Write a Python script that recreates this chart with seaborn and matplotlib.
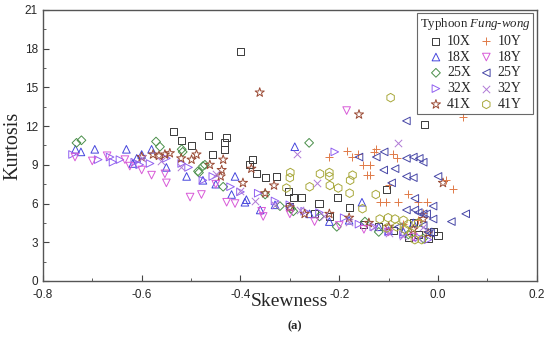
import pandas as pd
import matplotlib
matplotlib.use("Agg")
import matplotlib.pyplot as plt
import seaborn as sns
from matplotlib.ticker import MultipleLocator

# skewness / kurtosis, one pair of lists per series
x10X = [-0.40, -0.536, -0.519, -0.50, -0.465, -0.428, -0.432, -0.432, -0.456, -0.376, -0.381, -0.367,
        -0.35, -0.327, -0.303, -0.293, -0.276, -0.241, -0.204, -0.18, -0.104, -0.027, -0.30, -0.25,
        -0.22, -0.15, -0.12, -0.09, -0.06, -0.04, -0.02, -0.01, 0.0, -0.05]
y10X = [17.8, 11.6, 10.9, 10.5, 11.3, 11.1, 10.7, 10.2, 9.8, 9.4, 9.0, 8.3,
        8.0, 8.1, 6.9, 6.5, 6.5, 6.0, 6.5, 5.7, 7.1, 12.1, 5.8, 5.2,
        5.0, 4.4, 4.2, 3.9, 3.4, 3.6, 3.3, 3.8, 3.5, 4.5]

x18X = [-0.734, -0.723, -0.695, -0.631, -0.60, -0.61, -0.58, -0.618, -0.509, -0.411, -0.476, -0.29,
        -0.154, -0.418, -0.388, -0.391, -0.36, -0.45, -0.55, -0.33, -0.26, -0.22, -0.18, -0.12,
        -0.10, -0.07, -0.05]
y18X = [10.2, 10.0, 10.2, 10.2, 9.8, 9.5, 10.2, 9.1, 8.1, 8.1, 7.8, 10.4,
        6.1, 6.7, 6.3, 6.1, 5.5, 7.5, 8.8, 5.9, 5.2, 4.6, 4.7, 4.2,
        3.9, 3.8, 4.5]

x25X = [-0.732, -0.722, -0.571, -0.563, -0.517, -0.472, -0.484, -0.519, -0.476, -0.486, -0.435, -0.261,
        -0.32, -0.293, -0.297, -0.205, -0.148, -0.24, -0.12, -0.06, -0.03, -0.35]
y25X = [10.7, 10.9, 10.8, 10.4, 10.0, 9.0, 8.4, 10.2, 8.9, 8.5, 7.3, 10.7,
        5.8, 5.4, 5.6, 4.2, 4.6, 5.0, 3.8, 3.6, 3.3, 6.7]

x32X = [-0.74, -0.688, -0.664, -0.658, -0.644, -0.614, -0.604, -0.583, -0.519, -0.505, -0.476, -0.456,
        -0.42, -0.40, -0.364, -0.33, -0.30, -0.27, -0.24, -0.209, -0.19, -0.16, -0.13, -0.10,
        -0.07, -0.04, -0.02, -0.55]
y32X = [9.8, 9.4, 9.6, 9.2, 9.4, 9.2, 9.0, 9.1, 9.1, 8.8, 7.8, 8.1,
        7.3, 6.9, 6.8, 6.2, 5.9, 5.4, 5.3, 10.0, 4.9, 4.4, 4.2, 3.8,
        3.6, 3.4, 3.2, 9.5]

x41X = [-0.361, -0.577, -0.565, -0.553, -0.543, -0.489, -0.499, -0.462, -0.435, -0.438, -0.44, -0.395,
        -0.378, -0.35, -0.332, -0.16, 0.01, -0.30, -0.27, -0.22, -0.18, -0.14, -0.10, -0.05,
        -0.03, -0.02, -0.60, -0.52]
y41X = [14.6, 9.8, 9.7, 9.8, 9.9, 9.8, 9.4, 9.0, 9.4, 8.6, 8.1, 7.6,
        8.7, 6.8, 7.4, 12.9, 7.6, 5.7, 5.2, 5.2, 4.9, 4.5, 4.2, 4.0,
        4.8, 3.7, 9.6, 9.5]

x10Y = [0.05, -0.185, -0.22, -0.175, -0.162, -0.152, -0.138, -0.126, -0.091, -0.084, -0.143, -0.137,
        -0.10, -0.118, -0.105, -0.081, -0.06, -0.04, -0.023, 0.031, 0.017, -0.04, -0.03, -0.13, -0.07]
y10Y = [12.7, 10.1, 9.6, 9.6, 9.8, 9.0, 9.0, 10.2, 9.8, 9.5, 8.2, 8.2,
        7.4, 6.1, 6.1, 6.1, 6.7, 6.1, 6.1, 7.1, 7.8, 4.7, 5.3, 10.0, 4.4]

x18Y = [-0.735, -0.70, -0.634, -0.624, -0.60, -0.58, -0.553, -0.55, -0.502, -0.479, -0.45, -0.428,
        -0.411, -0.357, -0.354, -0.30, -0.25, -0.185, -0.20, -0.15, -0.10, -0.05, -0.67]
y18Y = [9.6, 9.3, 9.4, 8.9, 8.6, 8.2, 8.3, 7.6, 6.5, 6.7, 7.5, 6.1,
        6.0, 5.4, 5.0, 5.2, 4.6, 13.2, 4.3, 4.0, 3.8, 3.4, 9.7]

x25Y = [-0.064, -0.16, -0.125, -0.109, -0.064, -0.05, -0.038, -0.03, -0.11, -0.087, -0.094, -0.064,
        -0.05, 0.0, -0.047, -0.064, -0.047, -0.04, -0.03, -0.023, 0.027, 0.056, -0.03, -0.02,
        -0.015, -0.08, -0.01, -0.01]
y25Y = [12.4, 9.6, 9.6, 10.0, 9.5, 9.6, 9.5, 9.2, 8.6, 8.7, 7.6, 8.1,
        8.0, 8.1, 6.4, 5.5, 5.5, 5.3, 5.2, 5.2, 4.6, 5.2, 4.3, 3.8,
        3.7, 4.2, 4.8, 5.8]

x32Y = [-0.285, -0.245, -0.081, -0.60, -0.56, -0.52, -0.45, -0.40, -0.37, -0.33, -0.28, -0.23,
        -0.18, -0.13, -0.10, -0.07, -0.04, -0.03]
y32Y = [9.8, 7.6, 10.7, 9.5, 9.3, 8.8, 8.3, 7.0, 6.2, 5.9, 5.5, 5.0,
        4.6, 4.2, 3.7, 3.5, 3.3, 4.2]

x41Y = [-0.096, -0.299, -0.30, -0.239, -0.22, -0.22, -0.219, -0.173, -0.178, -0.26, -0.202, -0.179,
        -0.153, -0.126, -0.118, -0.101, -0.087, -0.07, -0.104, -0.084, -0.067, -0.054, -0.047, -0.033,
        -0.307, -0.04, -0.06]
y41Y = [14.2, 8.4, 8.0, 8.3, 8.4, 8.1, 7.4, 8.2, 7.8, 7.3, 7.2, 6.8,
        5.6, 6.7, 4.8, 4.9, 4.8, 4.7, 4.1, 4.2, 4.0, 3.7, 3.2, 3.2,
        7.2, 4.5, 4.4]

names = ["10X", "18X", "25X", "32X", "41X", "10Y", "18Y", "25Y", "32Y", "41Y"]
xs = [x10X, x18X, x25X, x32X, x41X, x10Y, x18Y, x25Y, x32Y, x41Y]
ys = [y10X, y18X, y25X, y32X, y41X, y10Y, y18Y, y25Y, y32Y, y41Y]

markers = {"10X": "s", "18X": "^", "25X": "D", "32X": ">", "41X": "*",
           "10Y": "+", "18Y": "v", "25Y": "<", "32Y": "x", "41Y": "h"}
colors = {"10X": "#3a3a3a", "18X": "#4646dd", "25X": "#4a8f4a", "32X": "#9160f0", "41X": "#9a4a34",
          "10Y": "#e07a48", "18Y": "#d85ad8", "25Y": "#4646a6", "32Y": "#b07ad6", "41Y": "#a8a83a"}
sizes = {"s": 26, "^": 30, "D": 20, "*": 48, ">": 30, "+": 36, "v": 30, "<": 30, "x": 28, "h": 38}

frames = []
for n, x, y in zip(names, xs, ys):
    frames.append(pd.DataFrame({"skew": x, "kurt": y, "series": n}))
df = pd.concat(frames, ignore_index=True)

sns.set_style("ticks")
plt.rcParams["font.family"] = ["Liberation Sans", "DejaVu Sans"]
plt.rcParams["mathtext.fontset"] = "custom"
plt.rcParams["mathtext.it"] = "Liberation Serif:italic"
plt.rcParams["mathtext.rm"] = "Liberation Serif"

fig = plt.figure(figsize=(5.5, 3.41), dpi=100)
ax = fig.add_axes([0.078, 0.176, 0.898, 0.795])

for n in names:
    sub = df[df["series"] == n]
    m = markers[n]
    c = colors[n]
    if m in ("+", "x"):
        sns.scatterplot(data=sub, x="skew", y="kurt", marker=m, color=c, s=sizes[m],
                        linewidth=0.7, ax=ax, label=n)
    else:
        sns.scatterplot(data=sub, x="skew", y="kurt", marker=m, color=c, facecolor="none",
                        edgecolor=c, s=sizes[m], linewidth=0.7, ax=ax, label=n)

ax.set_xlim(-0.8, 0.2)
ax.set_ylim(0, 21)
ax.xaxis.set_major_locator(MultipleLocator(0.2))
ax.xaxis.set_minor_locator(MultipleLocator(0.1))
ax.yaxis.set_major_locator(MultipleLocator(3))
ax.yaxis.set_minor_locator(MultipleLocator(1.5))
ax.xaxis.set_major_formatter(plt.FuncFormatter(lambda v, p: f"{v:.1f}"))
ax.tick_params(which="both", direction="in", top=False, right=False, labelsize=8.5, color="#444")
ax.tick_params(axis="x", pad=6)
ax.tick_params(which="major", length=4)
ax.tick_params(which="minor", length=2.5)
for sp in ax.spines.values():
    sp.set_color("#555")
    sp.set_linewidth(1.0)

ax.set_xlabel("Skewness", family="Liberation Serif", fontsize=14, labelpad=-6)
ax.set_ylabel("Kurtosis", family="Liberation Serif", fontsize=14.5, labelpad=2)
fig.text(0.536, 0.035, "(a)", family="Liberation Serif", fontweight="bold", fontsize=9, ha="center")

leg = ax.legend(ncol=2, loc="upper right", title="Typhoon $\\mathit{Fung}$-$\\mathit{wong}$",
                prop={"family": "Liberation Serif", "size": 10}, frameon=True, fancybox=False,
                borderaxespad=0.25, handletextpad=0.3, columnspacing=0.6, labelspacing=0.2,
                handlelength=1.0, borderpad=0.2)
leg.get_title().set_fontfamily("Liberation Serif")
leg.get_title().set_fontsize(9.3)
leg.get_frame().set_edgecolor("#444")
leg.get_frame().set_linewidth(0.8)

fig.savefig("out.png", dpi=100)
